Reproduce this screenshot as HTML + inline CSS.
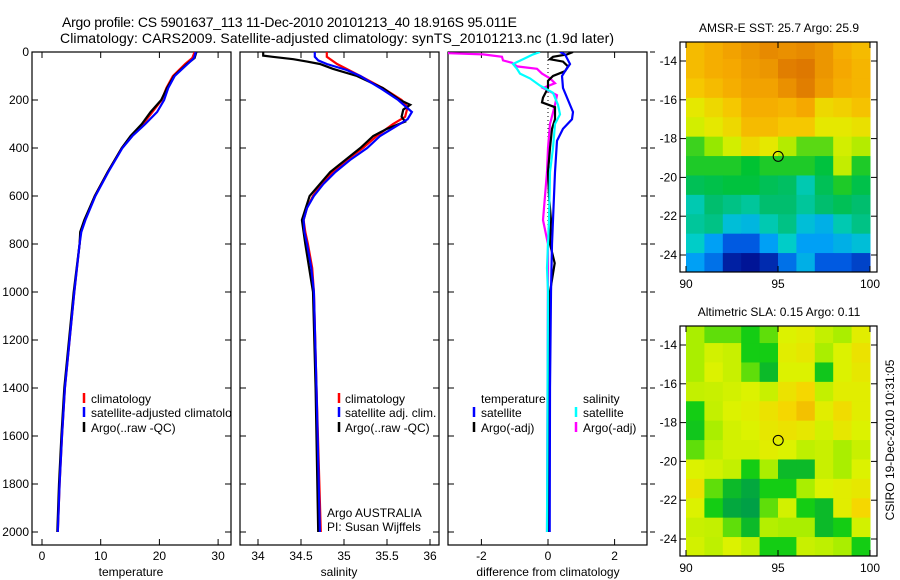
<!DOCTYPE html>
<html><head><meta charset="utf-8"><style>
html,body{margin:0;padding:0;background:#fff}
svg{display:block;font-family:"Liberation Sans",sans-serif}
text{font-size:12px;fill:#000}
text.ttl{font-size:14px}
</style></head><body>
<svg id="fig" width="900" height="580" viewBox="0 0 900 580">
<defs>
<clipPath id="c1"><rect x="32" y="52" width="199" height="493"/></clipPath>
<clipPath id="c2"><rect x="240" y="52" width="199" height="493"/></clipPath>
<clipPath id="c3"><rect x="448" y="52" width="199" height="493"/></clipPath>
<clipPath id="m1"><rect x="680" y="42" width="197" height="230"/></clipPath>
<clipPath id="m2"><rect x="680" y="326" width="197" height="230"/></clipPath>
</defs>
<text class="ttl" x="62" y="27" textLength="455">Argo profile: CS 5901637_113 11-Dec-2010 20101213_40 18.916S 95.011E</text>
<text class="ttl" x="60" y="43" textLength="554">Climatology: CARS2009. Satellite-adjusted climatology: synTS_20101213.nc (1.9d later)</text>
<g id="g"></g>
</svg>
<script>
// ---------- data ----------
const tDepth=[0,25,50,100,150,200,250,300,350,400,500,600,700,750,800,1000,1200,1400,1600,1800,2000];
const tClim=[26,25.6,24.4,22.3,21.2,20.4,18.8,17.2,15.2,13.6,11.2,9.0,7.3,6.6,6.4,5.5,4.7,3.9,3.4,3.0,2.7];
const tSat=[26.2,25.9,24.8,22.6,21.5,20.8,19.6,17.6,15.4,13.7,11.3,9.1,7.4,6.7,6.4,5.5,4.7,3.9,3.4,3.0,2.7];
const tArgo=[26.3,26.0,24.7,22.5,21.3,20.3,18.5,17.0,15.1,13.6,11.2,9.0,7.2,6.5,6.4,5.4,4.6,3.8,3.3,2.9,2.6];
const sDepthC=[0,20,50,100,150,200,230,270,300,350,400,450,500,550,600,650,700,750,800,900,1000,1400,2000];
const sClim=[34.80,34.80,34.92,35.19,35.45,35.67,35.74,35.71,35.57,35.38,35.22,35.03,34.87,34.74,34.64,34.57,34.53,34.55,34.58,34.63,34.65,34.68,34.73];
const sDepthS=[0,20,35,50,75,100,150,200,250,280,300,350,400,450,500,550,600,650,700,750,800,900,1000,1400,2000];
const sSat=[34.66,34.66,34.70,34.80,35.03,35.19,35.42,35.63,35.79,35.74,35.65,35.42,35.27,35.07,34.90,34.76,34.65,34.57,34.53,34.54,34.57,34.62,34.65,34.68,34.72];
const sDepthA=[0,15,20,30,40,50,70,100,150,200,220,240,270,290,320,350,400,500,600,700,800,1000,1400,2000];
const sArgo=[34.06,34.06,34.17,34.41,34.57,34.72,34.87,35.15,35.45,35.65,35.77,35.69,35.67,35.71,35.50,35.34,35.19,34.84,34.60,34.51,34.55,34.64,34.67,34.70];
const dDepthTS=[0,10,50,80,100,150,200,250,280,320,370,500,600,800,1000,1400,2000];
const dTSat=[0.36,0.51,0.66,0.51,0.42,0.45,0.60,0.75,0.72,0.45,0.27,0.21,0.18,0.12,0.09,0.06,0.05];
const dDepthTA=[0,10,20,30,40,60,80,100,120,150,190,210,230,280,320,400,500,600,700,800,880,1000,1400,2000];
const dTArgo=[0.75,0.57,0.15,0.06,0.45,0.60,0.51,0.15,0,0,-0.15,-0.18,0.21,0.21,0.12,0.06,0,0.03,0.09,0.06,0.20,0.06,0.04,0.03];
const dDepthSS=[0,10,30,50,70,90,110,140,170,220,260,300,400,500,700,900,1000,2000];
const dSSat=[-0.24,-0.45,-0.75,-1.05,-0.93,-0.84,-0.54,-0.24,0.15,0.30,0.36,0.21,0.15,0.06,0.03,-0.03,0,-0.03];
const dDepthSA=[0,5,10,20,35,45,60,70,90,110,130,150,180,220,300,400,500,600,700,800,900,2000];
const dSArgo=[-3,-3,-1.95,-1.38,-1.35,-1.08,-0.93,-0.33,-0.18,0.06,0.21,-0.15,0.27,0.21,0.06,0,-0.03,-0.09,-0.15,0,0,-0.03];
const depthTicks=[0,200,400,600,800,1000,1200,1400,1600,1800,2000];
const tTicks=[0,10,20,30];
const sTicks=[34,34.5,35,35.5,36];
const dTicks=[-2,0,2];
const latTicks=[-14,-16,-18,-20,-22,-24];
const lonTicks=[90,95,100];
const gridLats=[-13,-14,-15,-16,-17,-18,-19,-20,-21,-22,-23,-24];
const gridLons=[90,91,92,93,94,95,96,97,98,99];
const sst=[
[26.8,27,27.2,27.4,27.6,27.5,27.6,27.4,27.0,26.8],
[26.8,27,27.1,27.3,27.4,27.8,27.9,27.4,27.1,26.9],
[26.6,26.8,27.0,27.2,27.2,27.5,27.8,27.3,27.0,26.9],
[26.2,26.4,26.6,27.0,27.0,26.9,27.1,26.4,26.5,26.7],
[26.0,26.2,26.4,26.8,26.8,26.6,26.6,26.2,26.2,26.3],
[25.3,25.6,26.0,26.4,26.2,25.8,25.4,25.4,26.0,25.8],
[25.2,25.2,25.2,25.1,25.2,25.2,25.2,25.0,25.9,25.2],
[24.8,24.9,25.0,25.0,24.8,24.7,24.3,24.8,25.2,24.9],
[24.3,24.6,24.5,24.4,24.6,24.6,24.4,24.6,24.8,24.6],
[24.4,24.5,24.0,23.9,24.3,24.5,24.0,23.8,24.3,24.5],
[24.2,23.6,23.0,23.0,23.6,24.2,23.6,23.6,23.8,24.0],
[23.6,23.2,22.5,22.4,22.6,23.2,23.8,23.0,23.0,22.8]];
const sla=[
[0.0,-0.05,-0.05,-0.1,-0.05,0.1,0.12,0.05,0.0,0.12],
[0.0,0.08,0.06,-0.1,-0.1,0.12,0.14,0.0,0.1,0.16],
[0.0,0.1,0.06,-0.05,-0.15,0.1,0.1,-0.12,0.1,0.14],
[0.05,0.06,0.08,0.1,0.06,0.16,0.2,0.05,0.12,0.12],
[-0.1,0.05,0.1,0.12,0.16,0.2,0.24,0.12,0.18,0.12],
[-0.12,0.0,0.08,0.1,0.14,0.16,0.14,0.08,0.14,0.1],
[-0.05,0.04,0.08,0.08,0.12,0.1,0.04,0.06,0.0,0.06],
[0.1,0.08,0.05,-0.1,0.0,-0.15,-0.15,0.06,0.0,0.1],
[0.16,-0.05,-0.15,-0.2,-0.1,-0.1,0.0,0.1,0.12,0.14],
[0.1,-0.1,-0.2,-0.22,-0.05,0.08,-0.1,-0.15,0.12,0.2],
[0.06,0.05,-0.05,-0.15,0.02,0.0,0.0,-0.15,-0.1,0.08],
[0.08,0.04,0.1,0.05,-0.1,-0.1,0.06,0.04,0.0,-0.1]];
const argoLon=95.011, argoLat=-18.916;

// ---------- helpers ----------
const NS='http://www.w3.org/2000/svg';
const G=document.getElementById('g');
function mk(tag,attrs,parent){const e=document.createElementNS(NS,tag);for(const k in attrs)e.setAttribute(k,attrs[k]);(parent||G).appendChild(e);return e;}
const yD=d=>52+d*0.24;
const xT=t=>42+t*5.87;
const xS=s=>258+86*(s-34);
const xDf=v=>548+33.3*v;
const xLon=l=>686+18.4*(l-90);
const yLat1=l=>61+19.4*(-14-l);
const yLat2=l=>345+19.4*(-14-l);

function frame(x,y,w,h,name){
  const r=mk('rect',{x:x,y:y,width:w,height:h,fill:'none',stroke:'#000','stroke-width':1.2});
  
  
}
function line(xs,ds,xf,color,clip,name){
  const pts=ds.map((d,i)=>xf(xs[i]).toFixed(1)+','+yD(d).toFixed(1)).join(' ');
  const p=mk('polyline',{points:pts,fill:'none',stroke:color,'stroke-width':2.2,'clip-path':'url(#'+clip+')'});
  
  
}
function txt(x,y,s,name,anchor,extra){
  const t=mk('text',Object.assign({x:x,y:y,'text-anchor':anchor||'start'},extra||{}));
  t.textContent=s;
  
  
  return t;
}
function xTicks(ticks,xf,x0,x1,top,bot,labY,name){
  ticks.forEach(v=>{const x=xf(v);
    mk('line',{x1:x,x2:x,y1:bot,y2:bot-6,stroke:'#000'});
    mk('line',{x1:x,x2:x,y1:top,y2:top+6,stroke:'#000'});
    txt(x,labY,String(v),name,'middle');});
}
function yTicks(ticks,yf,x0,x1,labels,name){
  ticks.forEach(v=>{const y=yf(v);
    mk('line',{x1:x0,x2:x0+6,y1:y,y2:y,stroke:'#000'});
    mk('line',{x1:x1,x2:x1-6,y1:y,y2:y,stroke:'#000'});
    if(labels)txt(x0-3,y+4,String(v),name,'end');});
}
function legMark(x,y,color,name){
  const l=mk('line',{x1:x,x2:x,y1:y-10,y2:y,stroke:color,'stroke-width':2.5});
  
  
}

// ---------- panel 1: temperature ----------
frame(32,52,199,493,'temperature-axes');
yTicks(depthTicks,yD,32,231,true,'depth-tick-label');
xTicks(tTicks,xT,32,231,52,545,560,'temperature-tick-label');
line(tClim,tDepth,xT,'#f00','c1','temperature-climatology-line');
line(tArgo,tDepth,xT,'#000','c1','temperature-argo-line');
line(tSat,tDepth,xT,'#00f','c1','temperature-satellite-line');
txt(131,576,'temperature','temperature-axis-title','middle');
legMark(84,403,'#f00','legend-mark-climatology');txt(91,403,'climatology','legend-climatology');
legMark(84,417,'#00f','legend-mark-satellite');txt(91,417,'satellite-adjusted climatology','legend-satellite-adjusted',null,{'clip-path':'url(#c1)'});
legMark(84,432,'#000','legend-mark-argo');txt(91,432,'Argo(..raw -QC)','legend-argo');

// ---------- panel 2: salinity ----------
frame(240,52,199,493,'salinity-axes');
yTicks(depthTicks,yD,240,439,false,'');
xTicks(sTicks,xS,240,439,52,545,560,'salinity-tick-label');
line(sClim,sDepthC,xS,'#f00','c2','salinity-climatology-line');
line(sArgo,sDepthA,xS,'#000','c2','salinity-argo-line');
line(sSat,sDepthS,xS,'#00f','c2','salinity-satellite-line');
txt(339,576,'salinity','salinity-axis-title','middle');
legMark(339,403,'#f00','legend-mark-climatology');txt(345,403,'climatology','legend-climatology');
legMark(339,417,'#00f','legend-mark-satellite');txt(345,417,'satellite adj. clim.','legend-satellite-adj');
legMark(339,432,'#000','legend-mark-argo');txt(345,432,'Argo(..raw -QC)','legend-argo');
txt(327,517,'Argo AUSTRALIA','argo-australia-label');
txt(327,531,'PI: Susan Wijffels','pi-label');

// ---------- panel 3: differences ----------
frame(448,52,199,493,'difference-axes');
yTicks(depthTicks,yD,448,647,false,'');
depthTicks.forEach(v=>mk('line',{x1:650,x2:655,y1:yD(v),y2:yD(v),stroke:'#000'}));
xTicks(dTicks,xDf,448,647,52,545,560,'difference-tick-label');
mk('line',{x1:xDf(0),x2:xDf(0),y1:yD(0),y2:yD(2000),stroke:'#000','stroke-dasharray':'1,3'});
line(dSArgo,dDepthSA,xDf,'#f0f','c3','salinity-argo-diff-line');
line(dTArgo,dDepthTA,xDf,'#000','c3','temperature-argo-diff-line');
line(dSSat,dDepthSS,xDf,'#0ff','c3','salinity-satellite-diff-line');
line(dTSat,dDepthTS,xDf,'#00f','c3','temperature-satellite-diff-line');
txt(548,576,'difference from climatology','difference-axis-title','middle');
txt(481,403,'temperature','legend-temperature-heading');
legMark(474,417,'#00f','legend-mark-t-satellite');txt(481,417,'satellite','legend-t-satellite');
legMark(474,432,'#000','legend-mark-t-argo');txt(481,432,'Argo(-adj)','legend-t-argo');
txt(583,403,'salinity','legend-salinity-heading');
legMark(576,417,'#0ff','legend-mark-s-satellite');txt(583,417,'satellite','legend-s-satellite');
legMark(576,432,'#f0f','legend-mark-s-argo');txt(583,432,'Argo(-adj)','legend-s-argo');

// ---------- maps ----------
function interp(stops,v){
  if(v<=stops[0][0])return stops[0][1];
  for(let i=1;i<stops.length;i++){if(v<=stops[i][0]){const a=stops[i-1],b=stops[i],f=(v-a[0])/(b[0]-a[0]);
    return 'rgb('+[0,1,2].map(k=>Math.round(a[1][k]+f*(b[1][k]-a[1][k]))).join(',')+')';}}
  return stops[stops.length-1][1];
}
function cs(stops,v){const c=interp(stops,v);return Array.isArray(c)?'rgb('+c.join(',')+')':c;}
const sstStops=[[22.4,[0,20,150]],[23.0,[0,90,225]],[23.6,[0,160,245]],[24.2,[0,205,200]],[24.6,[0,190,110]],[25.1,[0,195,50]],[25.6,[150,232,0]],[26.1,[225,240,0]],[26.6,[245,200,0]],[27.1,[245,168,0]],[27.9,[222,120,0]]];
const slaStops=[[-0.22,[0,160,70]],[-0.1,[20,205,20]],[0.0,[170,238,0]],[0.1,[220,242,0]],[0.2,[245,215,0]],[0.3,[240,160,0]]];
function drawMap(vals,stops,yLat,clip,top,name){
  gridLats.forEach((lat,r)=>gridLons.forEach((lon,c)=>{
    const x0=xLon(lon),x1=xLon(lon+1),y0=yLat(lat+0.1),y1=yLat(lat-1);
    const rc=mk('rect',{x:x0,y:y0,width:x1-x0+0.5,height:y1-y0+0.5,fill:cs(stops,vals[r][c]),'clip-path':'url(#'+clip+')'});
    
    
  }));
  frame(680,top,197,230,name+'-frame');
  yTicks(latTicks,yLat,680,877,true,name+'-lat-label');
  xTicks(lonTicks,xLon,680,877,top,top+230,top+246,name+'-lon-label');
  const c=mk('circle',{cx:xLon(argoLon),cy:yLat(argoLat),r:5,fill:'none',stroke:'#000','stroke-width':1});
  
  
}
drawMap(sst,sstStops,yLat1,'m1',42,'sst-map');
txt(779,32,'AMSR-E SST: 25.7 Argo: 25.9','sst-map-title','middle');
drawMap(sla,slaStops,yLat2,'m2',326,'sla-map');
txt(779,316,'Altimetric SLA: 0.15 Argo: 0.11','sla-map-title','middle');
txt(0,0,'CSIRO 19-Dec-2010 10:31:05','csiro-timestamp','middle',{transform:'translate(894,440) rotate(-90)'});
</script>
</body></html>
